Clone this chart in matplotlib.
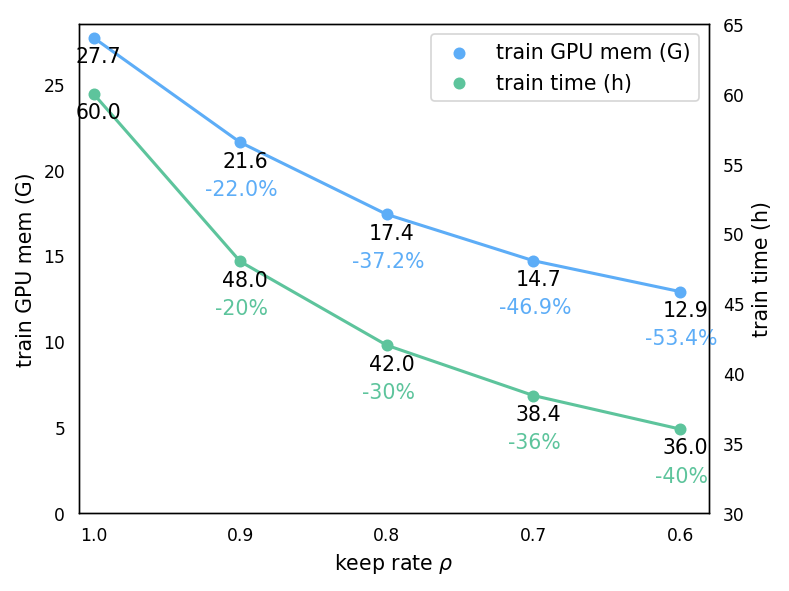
import matplotlib
matplotlib.use("Agg")
import matplotlib.pyplot as plt

keep_rate = [1.0, 0.9, 0.8, 0.7, 0.6]
gpu_mem = [27.7, 21.6, 17.4, 14.7, 12.9]
gpu_drop = ["", "-22.0%", "-37.2%", "-46.9%", "-53.4%"]
train_time = [60.0, 48.0, 42.0, 38.4, 36.0]
time_drop = ["", "-20%", "-30%", "-36%", "-40%"]

blue = "#5DADF7"
green = "#5DC49C"

fig = plt.figure(figsize=(6.4, 4.8), dpi=123.3)
ax = fig.add_axes([0.100, 0.132, 0.799, 0.826])
ax2 = ax.twinx()

ax.plot(keep_rate, gpu_mem, color=blue, lw=1.8)
ax.scatter(keep_rate, gpu_mem, color=blue, s=36, zorder=3, label="train GPU mem (G)")
ax2.plot(keep_rate, train_time, color=green, lw=1.8)
ax2.scatter(keep_rate, train_time, color=green, s=36, zorder=3, label="train time (h)")


def label_points(axis, xs, ys, drops, color):
    for x, y, d in zip(xs, ys, drops):
        axis.annotate(f"{y:.1f}", (x, y), xytext=(3, -5), textcoords="offset points",
                      ha="center", va="top", fontsize=12, color="black")
        if d:
            axis.annotate(d, (x, y), xytext=(0.8, -21.5), textcoords="offset points",
                          ha="center", va="top", fontsize=12, color=color)


label_points(ax, keep_rate, gpu_mem, gpu_drop, blue)
label_points(ax2, keep_rate, train_time, time_drop, green)

ax.set_xlim(1.01, 0.58)
ax.set_xticks(keep_rate)
ax.set_xticklabels([f"{v:.1f}" for v in keep_rate])
ax.set_ylim(0, 28.5)
ax.set_yticks([0, 5, 10, 15, 20, 25])
ax2.set_ylim(30, 65)
ax2.set_yticks([30, 35, 40, 45, 50, 55, 60, 65])

ax.set_xlabel(r"keep rate $\rho$", fontsize=12)
ax.set_ylabel("train GPU mem (G)", fontsize=12)
ax2.set_ylabel("train time (h)", fontsize=12)
ax.tick_params(length=0, labelsize=10, pad=8)
ax2.tick_params(length=0, labelsize=10, pad=8)

h1, l1 = ax.get_legend_handles_labels()
h2, l2 = ax2.get_legend_handles_labels()
ax2.legend(h1 + h2, l1 + l2, loc="upper right", fontsize=12)

fig.savefig("out.png")
